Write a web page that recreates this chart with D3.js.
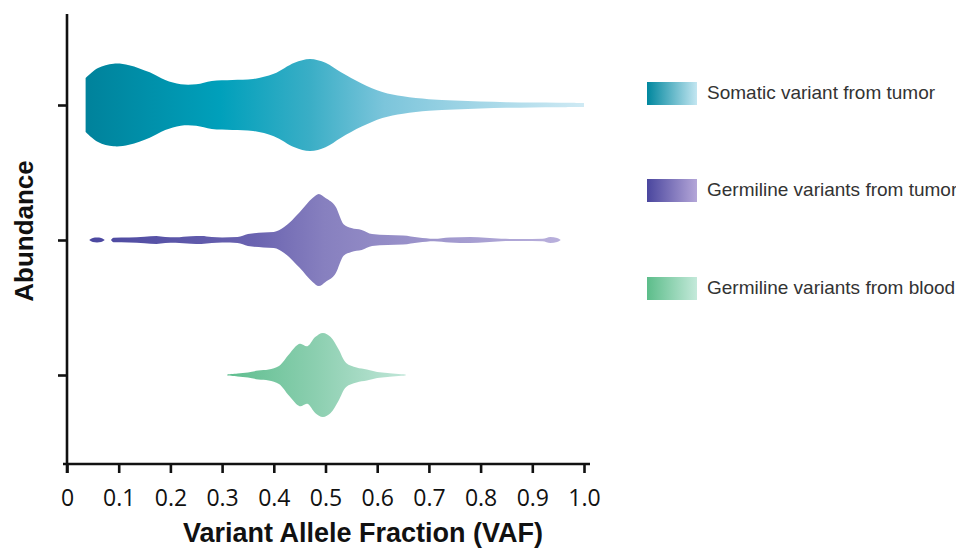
<!DOCTYPE html>
<html>
<head>
<meta charset="utf-8">
<script src="https://cdn.jsdelivr.net/npm/d3@7"></script>
<style>
    body {margin: 0; background: white;}
    svg {display: block;}
</style>
</head>
<body>
<div id="chart"></div>
<script>
// groups, top to bottom
const groups = ["Somatic variant from tumor", "Germiline variants from tumor", "Germiline variants from blood"];
const groupIds = ["somatic", "germTumor", "germBlood"];

// x ticks
const vafTicks = [0, 0.1, 0.2, 0.3, 0.4, 0.5, 0.6, 0.7, 0.8, 0.9, 1.0];

// violin outlines: [VAF, relative abundance] (null = gap)
const somaticVaf = [
    [0.036, 0.56], [0.06, 0.77], [0.09, 0.86], [0.12, 0.83], [0.16, 0.68], [0.19, 0.52],
    [0.22, 0.43], [0.25, 0.43], [0.28, 0.50], [0.32, 0.52], [0.36, 0.54], [0.40, 0.65],
    [0.44, 0.88], [0.47, 0.96], [0.50, 0.88], [0.53, 0.68], [0.57, 0.45], [0.61, 0.27],
    [0.65, 0.18], [0.70, 0.12], [0.75, 0.092], [0.80, 0.072], [0.85, 0.058], [0.90, 0.05],
    [0.95, 0.046], [1.0, 0.042]
];
const germTumorVaf = [
    [0.043, 0], [0.05, 0.042], [0.058, 0.052], [0.066, 0.042], [0.073, 0], [0.079, null],
    [0.085, 0], [0.09, 0.046], [0.12, 0.05], [0.15, 0.067], [0.173, 0.083], [0.19, 0.063],
    [0.21, 0.058], [0.24, 0.079], [0.26, 0.083], [0.28, 0.063], [0.30, 0.054], [0.33, 0.063],
    [0.35, 0.125], [0.38, 0.156], [0.40, 0.167], [0.42, 0.27], [0.45, 0.58], [0.475, 0.875],
    [0.487, 0.96], [0.50, 0.875], [0.52, 0.69], [0.535, 0.33], [0.55, 0.25], [0.57, 0.21],
    [0.59, 0.125], [0.62, 0.104], [0.65, 0.094], [0.68, 0.052], [0.71, 0.025], [0.74, 0.052],
    [0.78, 0.063], [0.81, 0.046], [0.84, 0.025], [0.88, 0.021], [0.92, 0.025], [0.935, 0.063],
    [0.948, 0.042], [0.955, 0]
];
const germBloodVaf = [
    [0.31, 0.01], [0.33, 0.03], [0.35, 0.052], [0.37, 0.094], [0.39, 0.115], [0.41, 0.19],
    [0.43, 0.44], [0.45, 0.65], [0.465, 0.60], [0.48, 0.79], [0.495, 0.875], [0.51, 0.79],
    [0.525, 0.54], [0.54, 0.25], [0.56, 0.156], [0.58, 0.115], [0.60, 0.063], [0.62, 0.042],
    [0.655, 0.01]
];
const violinData = [somaticVaf, germTumorVaf, germBloodVaf];

// colour stops per group [offset, colour]
const somaticStops = [[0, "#00829b"], [0.27, "#00a0bb"], [0.45, "#3aaec6"], [0.6, "#7cc5db"], [1, "#cfeaf4"]];
const germTumorStops = [[0, "#4b48a0"], [0.35, "#6a63b0"], [0.5, "#8780bf"], [1, "#b9b0dc"]];
const germBloodStops = [[0, "#5fbe8f"], [0.5, "#8ccfb0"], [1, "#c0e6d8"]];
const violinStops = [somaticStops, germTumorStops, germBloodStops];
const legendStops = [
    [[0, "#00879e"], [1, "#c3e6f1"]],
    [[0, "#4a469e"], [1, "#b4a6d8"]],
    [[0, "#5cbd8a"], [1, "#c4e9da"]]
];

function chart() {
    let width = 956, height = 548;
    let plotLeft = 67, plotRight = 584, plotTop = 14, plotBottom = 464;

    let svg = d3.select("#chart").append("svg")
        .attr("width", width)
        .attr("height", height);

    let x = d3.scaleLinear().domain([0, 1]).range([plotLeft, plotRight]);
    let y = d3.scalePoint().domain(groupIds).range([105, 375]);
    let w = d3.scaleLinear().domain([0, 1]).range([0, 48]);

    let defs = svg.append("defs");

    // violin gradients span each violin's own extent
    violinData.forEach(function (data, i) {
        let ext = d3.extent(data, d => d[0]);
        let g = defs.append("linearGradient")
            .attr("id", "grad-" + groupIds[i])
            .attr("gradientUnits", "userSpaceOnUse")
            .attr("x1", x(ext[0])).attr("x2", x(ext[1]))
            .attr("y1", 0).attr("y2", 0);
        violinStops[i].forEach(function (s) {
            g.append("stop").attr("offset", s[0]).attr("stop-color", s[1]);
        });
    });
    legendStops.forEach(function (stops, i) {
        let g = defs.append("linearGradient")
            .attr("id", "legend-" + groupIds[i])
            .attr("x1", 0).attr("x2", 1).attr("y1", 0).attr("y2", 0);
        stops.forEach(function (s) {
            g.append("stop").attr("offset", s[0]).attr("stop-color", s[1]);
        });
    });

    // violins (tumor germline keeps sharper spikes)
    violinData.forEach(function (data, i) {
        let cy = y(groupIds[i]);
        let area = d3.area()
            .defined(d => d[1] !== null)
            .curve(i === 1 ? d3.curveMonotoneX : d3.curveCatmullRom.alpha(0.5))
            .x(d => x(d[0]))
            .y0(d => cy + w(d[1]))
            .y1(d => cy - w(d[1]));
        svg.append("path")
            .datum(data)
            .attr("d", area)
            .attr("fill", "url(#grad-" + groupIds[i] + ")");
    });

    // x axis
    let xAxis = svg.append("g")
        .attr("transform", "translate(0," + plotBottom + ")")
        .call(d3.axisBottom(x)
            .tickValues(vafTicks)
            .tickFormat(d => d === 0 ? "0" : d3.format(".1f")(d))
            .tickSize(9)
            .tickSizeOuter(0)
            .tickPadding(17));
    xAxis.select(".domain").attr("d", "M" + (plotLeft - 4) + ",0H" + (plotRight + 6));
    xAxis.selectAll("line, .domain").attr("stroke", "#111").attr("stroke-width", 2.6);
    xAxis.selectAll("text")
        .attr("fill", "#111")
        .style("font-family", "'Open Sans', sans-serif")
        .style("font-size", "23px");

    // y axis
    let yAxis = svg.append("g")
        .attr("transform", "translate(" + plotLeft + ",0)")
        .call(d3.axisLeft(y).tickSize(9).tickFormat(""));
    yAxis.select(".domain").attr("d", "M0," + plotTop + "V" + (plotBottom + 9));
    yAxis.selectAll("line, .domain").attr("stroke", "#111").attr("stroke-width", 2.6);

    // axis titles
    svg.append("text")
        .attr("x", 363).attr("y", 542)
        .attr("text-anchor", "middle")
        .style("font-family", "'Liberation Sans', Arial, sans-serif")
        .style("font-weight", "bold")
        .style("font-size", "27px")
        .attr("fill", "#111")
        .text("Variant Allele Fraction (VAF)");

    svg.append("text")
        .attr("transform", "translate(33,231) rotate(-90)")
        .attr("text-anchor", "middle")
        .style("font-family", "'Liberation Sans', Arial, sans-serif")
        .style("font-weight", "bold")
        .style("font-size", "26px")
        .attr("fill", "#111")
        .text("Abundance");

    // legend
    let legendY = [82, 179, 277];
    let legend = svg.append("g").attr("class", "legend");
    groups.forEach(function (name, i) {
        legend.append("rect")
            .attr("x", 647).attr("y", legendY[i])
            .attr("width", 50).attr("height", 23)
            .attr("fill", "url(#legend-" + groupIds[i] + ")");
        legend.append("text")
            .attr("x", 707).attr("y", legendY[i] + 17)
            .style("font-family", "'Liberation Sans', Arial, sans-serif")
            .style("font-size", "19px")
            .attr("fill", "#333")
            .text(name);
    });

    return chart;
}

chart();
</script>
</body>
</html>
